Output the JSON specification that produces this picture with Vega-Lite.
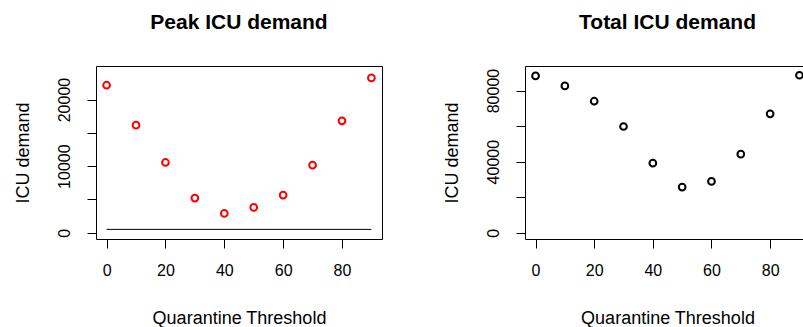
{
  "$schema": "https://vega.github.io/schema/vega-lite/v6.json",
  "background": "white",
  "padding": {"left": 13, "top": 11, "right": 0, "bottom": 0},
  "datasets": {
    "peak": [
      {"threshold": 0, "demand": 22150},
      {"threshold": 10, "demand": 16150},
      {"threshold": 20, "demand": 10550},
      {"threshold": 30, "demand": 5200},
      {"threshold": 40, "demand": 2900},
      {"threshold": 50, "demand": 3800},
      {"threshold": 60, "demand": 5650},
      {"threshold": 70, "demand": 10150},
      {"threshold": 80, "demand": 16800},
      {"threshold": 90, "demand": 23250}
    ],
    "capacity": [
      {"threshold": 0, "threshold_end": 90, "demand": 500}
    ],
    "total": [
      {"threshold": 0, "demand": 88240},
      {"threshold": 10, "demand": 82620},
      {"threshold": 20, "demand": 74000},
      {"threshold": 30, "demand": 59770},
      {"threshold": 40, "demand": 39160},
      {"threshold": 50, "demand": 25670},
      {"threshold": 60, "demand": 28850},
      {"threshold": 70, "demand": 44220},
      {"threshold": 80, "demand": 66890},
      {"threshold": 90, "demand": 88620}
    ]
  },
  "config": {
    "font": "Liberation Sans",
    "view": {"stroke": "black", "strokeWidth": 1},
    "axis": {
      "domain": false,
      "grid": false,
      "tickColor": "black",
      "tickSize": 9,
      "tickWidth": 1,
      "labelFont": "Liberation Sans",
      "labelFontSize": 16,
      "labelColor": "black",
      "titleFont": "Liberation Sans",
      "titleFontSize": 18,
      "titleFontWeight": "normal",
      "titleColor": "black",
      "labelOverlap": false,
      "labelFlush": false
    },
    "axisY": {"labelAngle": -90, "labelAlign": "center", "labelBaseline": "bottom", "labelPadding": 15, "titlePadding": 24},
    "axisX": {"labelPadding": 14, "titlePadding": 31},
    "title": {"fontSize": 21, "font": "Liberation Sans", "fontWeight": "bold", "color": "black", "offset": 33, "anchor": "middle"}
  },
  "spacing": 59,
  "hconcat": [
    {
      "width": 286,
      "height": 173,
      "title": "Peak ICU demand",
      "layer": [
        {
          "data": {"name": "peak"},
          "mark": {"type": "point", "shape": "circle", "filled": false, "color": "#ff0000", "strokeWidth": 2, "size": 45, "opacity": 1},
          "encoding": {
            "x": {"field": "threshold", "type": "quantitative", "title": "Quarantine Threshold",
                  "scale": {"domain": [-3.6, 93.6], "nice": false, "zero": false},
                  "axis": {"values": [0, 20, 40, 60, 80]}},
            "y": {"field": "demand", "type": "quantitative", "title": "ICU demand",
                  "scale": {"domain": [-944, 25037], "nice": false, "zero": false},
                  "axis": {"values": [0, 5000, 10000, 15000, 20000], "format": "d",
                           "labelExpr": "datum.value % 10000 == 0 ? datum.label : ''"}}
          }
        },
        {
          "data": {"name": "capacity"},
          "mark": {"type": "rule", "color": "black", "strokeWidth": 1},
          "encoding": {
            "x": {"field": "threshold", "type": "quantitative", "title": "Quarantine Threshold"},
            "x2": {"field": "threshold_end"},
            "y": {"field": "demand", "type": "quantitative", "title": "ICU demand"}
          }
        }
      ]
    },
    {
      "width": 285,
      "height": 173,
      "title": "Total ICU demand",
      "data": {"name": "total"},
      "mark": {"type": "point", "shape": "circle", "filled": false, "color": "black", "strokeWidth": 2, "size": 45, "opacity": 1},
      "encoding": {
        "x": {"field": "threshold", "type": "quantitative", "title": "Quarantine Threshold",
              "scale": {"domain": [-3.6, 93.6], "nice": false, "zero": false},
              "axis": {"values": [0, 20, 40, 60, 80]}},
        "y": {"field": "demand", "type": "quantitative", "title": "ICU demand",
              "scale": {"domain": [-3540, 93820], "nice": false, "zero": false},
              "axis": {"values": [0, 20000, 40000, 60000, 80000], "format": "d",
                       "labelExpr": "datum.value % 40000 == 0 ? datum.label : ''"}}
      }
    }
  ]
}
